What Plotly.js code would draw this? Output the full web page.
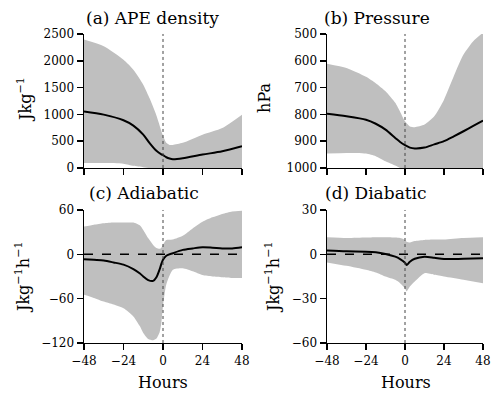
<!DOCTYPE html>
<html>
<head>
<meta charset="utf-8">
<script src="https://cdn.plot.ly/plotly-3.0.1.min.js"></script>
<style>
  body { margin: 0; background: #fff; }
  #chart { width: 500px; height: 398px; }
</style>
</head>
<body>
<div id="chart"></div>
<script>
// hours relative to the event, one list per panel
var apeHours = [-48, -36, -24, -18, -12, -8, -4, -1, 0, 2, 4, 6, 12, 24, 36, 48];
var apeMean  = [1055, 995, 890, 790, 622, 460, 320, 255, 240, 200, 175, 162, 180, 249, 311, 404];
var apeUpper = [2395, 2270, 2020, 1835, 1555, 1290, 980, 690, 600, 470, 430, 430, 470, 622, 746, 995];
var apeLower = [93, 93, 80, 40, 15, 0, 0, 0, 0, 0, 0, 0, 0, 0, 0, 0];

var presHours = [-48, -36, -24, -18, -12, -6, -3, 0, 3, 6, 12, 18, 24, 30, 36, 42, 48];
var presMean  = [798, 807, 820, 835, 857, 888, 903, 915, 924, 927, 924, 912, 900, 882, 863, 843, 823];
var presUpper = [611, 627, 660, 684, 714, 757, 790, 826, 845, 848, 838, 807, 745, 658, 577, 527, 495];
var presLower = [946, 944, 946, 956, 975, 991, 1000, 1000, 1000, 1000, 1000, 1000, 1000, 1000, 1000, 1000, 1000];

var adiHours = [-48, -42, -36, -30, -24, -18, -14, -12, -9, -6, -4, -2, -1, 0, 2, 6, 12, 18, 24, 30, 36, 42, 48];
var adiMean  = [-6.6, -7.5, -8.4, -11, -14, -20, -26, -30, -35, -36, -31, -20, -13, -7.5, -2, 1.5, 6, 8, 9.6, 9, 8, 8, 9.6];
var adiUpper = [37.5, 40, 42, 43, 43, 43, 39, 33, 22, 12.75, 8.5, 7.5, 9, 13, 19.5, 20, 25, 35, 44, 50, 54.6, 58, 59];
var adiLower = [-54.75, -59, -64, -68, -73, -84, -97.5, -106.5, -114.6, -116.4, -114, -105, -93, -70, -41, -21, -19, -23, -28, -30, -31, -32, -32];

var diaHours = [-48, -36, -24, -18, -12, -6, -3, 0, 1, 3, 6, 12, 18, 24, 36, 48];
var diaMean  = [2.55, 2, 1.8, 1.35, 0.2, -1.6, -3.2, -5.7, -7.2, -5, -3, -1.6, -2.3, -3.2, -3, -2.7];
var diaUpper = [11.5, 11, 11.3, 11.5, 11.5, 11.3, 11, 9.75, 8.5, 8, 9, 9.75, 10, 10, 11, 11.5];
var diaLower = [-5.5, -7.8, -10.5, -12.3, -15, -17.25, -19.5, -22.9, -25, -21.75, -18.4, -12.75, -13.9, -15, -17.25, -19.5];

var hourTicks = [-48, -24, 0, 24, 48];
var eventHour = 0;

var FONT = 'DejaVu Serif';
var BAND = '#bfbfbf';

function panel(hours, mean, lower, upper, xa, ya) {
    return [
        {x: hours, y: lower, xaxis: xa, yaxis: ya, mode: 'lines',
         line: {width: 0, shape: 'spline', smoothing: 0.6}, hoverinfo: 'skip'},
        {x: hours, y: upper, xaxis: xa, yaxis: ya, mode: 'lines', fill: 'tonexty',
         fillcolor: BAND, line: {width: 0, shape: 'spline', smoothing: 0.6}, hoverinfo: 'skip'},
        {x: hours, y: mean, xaxis: xa, yaxis: ya, mode: 'lines',
         line: {color: 'black', width: 2, shape: 'spline', smoothing: 0.8}}
    ];
}

var traces = [].concat(
    panel(apeHours, apeMean, apeLower, apeUpper, 'x', 'y'),
    panel(presHours, presMean, presLower, presUpper, 'x2', 'y2'),
    panel(adiHours, adiMean, adiLower, adiUpper, 'x3', 'y3'),
    panel(diaHours, diaMean, diaLower, diaUpper, 'x4', 'y4')
);

function xAxis(domain, anchor, labels) {
    return {
        domain: domain, anchor: anchor, range: [-48, 48],
        tickvals: hourTicks, showticklabels: labels,
        showline: true, linecolor: 'black', linewidth: 1.5,
        ticks: 'outside', ticklen: 6, tickwidth: 1.5, tickcolor: 'black',
        showgrid: false, zeroline: false,
        tickfont: {family: FONT, size: 12, color: 'black'}
    };
}

function yAxis(domain, anchor, range, dtick) {
    return {
        domain: domain, anchor: anchor, range: range, dtick: dtick,
        showline: true, linecolor: 'black', linewidth: 1.5,
        ticks: 'outside', ticklen: 6, tickwidth: 1.5, tickcolor: 'black',
        showgrid: false, zeroline: false,
        tickfont: {family: FONT, size: 12, color: 'black'}
    };
}

var leftX = [0.168, 0.484];
var rightX = [0.654, 0.966];
var topY = [0.578, 0.9146];
var botY = [0.1382, 0.4724];

function label(text, x, y, size, angle) {
    return {
        text: text, xref: 'paper', yref: 'paper', x: x, y: y,
        xanchor: 'center', yanchor: 'middle', showarrow: false,
        textangle: angle || 0,
        font: {family: FONT, size: size, color: 'black'}
    };
}

function eventLine(xa, ya) {
    return {type: 'line', xref: xa, yref: ya + ' domain', x0: eventHour, x1: eventHour, y0: 0, y1: 1,
            line: {color: '#444', width: 1, dash: 'dot'}};
}

function zeroLine(xa, ya) {
    return {type: 'line', xref: xa + ' domain', yref: ya, x0: 0, x1: 1, y0: 0, y1: 0,
            line: {color: 'black', width: 1.5, dash: 'dash'}};
}

var layout = {
    width: 500, height: 398,
    margin: {l: 0, r: 0, t: 0, b: 0},
    paper_bgcolor: 'white', plot_bgcolor: 'white',
    showlegend: false,
    font: {family: FONT},
    xaxis: xAxis(leftX, 'y', false),
    yaxis: yAxis(topY, 'x', [0, 2500], 500),
    xaxis2: xAxis(rightX, 'y2', false),
    yaxis2: yAxis(topY, 'x2', [1000, 500], 100),
    xaxis3: xAxis(leftX, 'y3', true),
    yaxis3: yAxis(botY, 'x3', [-120, 60], 60),
    xaxis4: xAxis(rightX, 'y4', true),
    yaxis4: yAxis(botY, 'x4', [-60, 30], 30),
    shapes: [
        eventLine('x', 'y'), eventLine('x2', 'y2'), eventLine('x3', 'y3'), eventLine('x4', 'y4'),
        zeroLine('x3', 'y3'), zeroLine('x4', 'y4')
    ],
    annotations: [
        label('(a) APE density', 0.304, 0.955, 17),
        label('(b) Pressure', 0.754, 0.955, 17),
        label('(c) Adiabatic', 0.288, 0.515, 17),
        label('(d) Diabatic', 0.752, 0.515, 17),
        label('Jkg<sup>−1</sup>', 0.05, 0.749, 16, -90),
        label('hPa', 0.53, 0.754, 16, -90),
        label('Jkg<sup>−1</sup>h<sup>−1</sup>', 0.044, 0.304, 16, -90),
        label('Jkg<sup>−1</sup>h<sup>−1</sup>', 0.544, 0.304, 16, -90),
        label('Hours', 0.326, 0.038, 16),
        label('Hours', 0.812, 0.038, 16)
    ]
};

Plotly.newPlot('chart', traces, layout, {displayModeBar: false, staticPlot: true});
</script>
</body>
</html>
